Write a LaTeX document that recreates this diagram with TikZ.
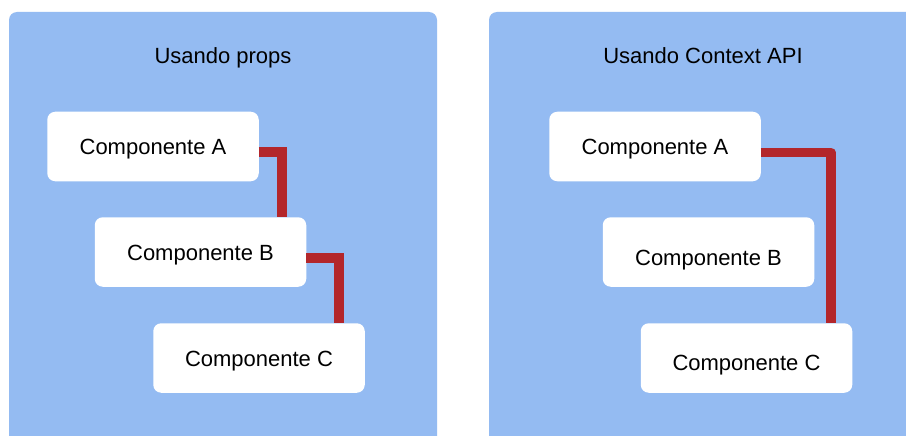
\documentclass[tikz,border=0pt]{standalone}
\usepackage{fontspec}
\setmainfont{Liberation Sans}
\definecolor{panelblue}{HTML}{94BBF2}
\definecolor{linkred}{HTML}{B3262B}
\tikzset{
  comp/.style={fill=white, rounded corners=8pt, minimum width=211.5pt, minimum height=69.5pt,
    inner sep=0pt, text height=16pt, text depth=0pt, font=\fontsize{22}{26}\selectfont},
  paneltitle/.style={inner sep=0pt, text height=16pt, text depth=0pt, font=\fontsize{22}{26}\selectfont},
  link/.style={draw=linkred, line width=9.5pt},
}
\begin{document}
\begin{tikzpicture}[x=1pt, y=-1pt]
  \clip (0,0) rectangle (906,436);
  \fill[white] (0,0) rectangle (906,436);
  % paneles
  \fill[panelblue, rounded corners=8pt] (9,12) rectangle (437,460);
  \fill[panelblue, rounded corners=8pt] (489,12) rectangle (917,460);
  \node[paneltitle] (tprops) at (223,56) {Usando props};
  \node[paneltitle] (tctx) at (703,56) {Usando Context API};
  % con props
  \node[comp] (pA) at (153,146.5) {Componente A};
  \node[comp] (pB) at (200.5,252) {Componente B};
  \node[comp] (pC) at (259,358) {Componente C};
  \draw[link] ([yshift=-5.5pt]pA.east) -| ([xshift=81.5pt]pB.north);
  \draw[link] ([yshift=-6pt]pB.east) -| ([xshift=80pt]pC.north);
  % con context
  \node[comp] (cA) at (655,146.5) {Componente A};
  \node[comp, text height=26pt] (cB) at (708.5,252) {Componente B};
  \node[comp, text height=24pt] (cC) at (746.5,358) {Componente C};
  \draw[link, line join=round] ([yshift=-6pt]cA.east) -| ([xshift=84.5pt]cC.north);
\end{tikzpicture}
\end{document}
